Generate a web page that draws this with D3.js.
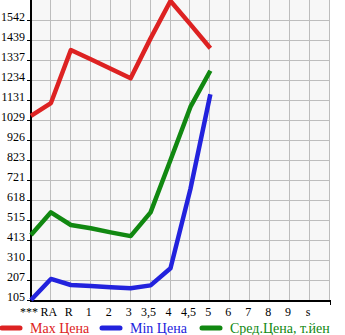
<!DOCTYPE html>
<html>
<head>
<meta charset="utf-8">
<script src="https://cdn.jsdelivr.net/npm/d3@7"></script>
<style>
  body { margin: 0; background: #fff; }
  svg { display: block; font-family: "Liberation Serif", "DejaVu Serif", serif; }
</style>
</head>
<body>
<script>
var w = 345;
var h = 335;

var categories = ["***", "RA", "R", "1", "2", "3", "3,5", "4", "4,5", "5", "6", "7", "8", "9", "s"];
var maxPrice = [1050, 1116, 1388, 1341, 1292, 1243, 1448, 1640, 1520, 1397];
var minPrice = [105, 213, 182, 177, 170, 165, 180, 268, 675, 1161];
var avgPrice = [439, 555, 490, 473, 452, 433, 555, 824, 1096, 1282];
var yTicks = [105, 207, 310, 413, 515, 618, 721, 823, 926, 1029, 1131, 1234, 1337, 1439, 1542];

var seriesNames = ["Max Цена", "Min Цена", "Сред.Цена, т.йен"];
var colors = ["#dd2222", "#2222dd", "#118811"];

var plotLeft = 31, plotRight = 330, plotTop = 0, plotBottom = 300;

var xScale = d3.scalePoint()
				.domain(categories)
				.range([plotLeft, plotRight - 20]);

var yScale = d3.scaleLinear()
				.domain([105, 1645])
				.range([plotBottom, plotTop]);

var svg = d3.select("body")
			.append("svg")
			.attr("width", w)
			.attr("height", h);

// plot background
svg.append("rect")
	.attr("x", plotLeft)
	.attr("y", plotTop)
	.attr("width", plotRight - plotLeft)
	.attr("height", plotBottom - plotTop)
	.attr("fill", "#f7f7f7");

// grid lines
svg.selectAll("line.hgrid")
	.data(yTicks)
	.enter()
	.append("line")
	.attr("class", "hgrid")
	.attr("x1", plotLeft)
	.attr("x2", plotRight)
	.attr("y1", function(d) { return Math.round(yScale(d)) + 0.5; })
	.attr("y2", function(d) { return Math.round(yScale(d)) + 0.5; })
	.attr("stroke", "#bdbdbd");

var vgrid = categories.slice(1).map(function(c) { return xScale(c); }).concat([plotRight]);
svg.selectAll("line.vgrid")
	.data(vgrid)
	.enter()
	.append("line")
	.attr("class", "vgrid")
	.attr("x1", function(d) { return Math.round(d) - 0.5; })
	.attr("x2", function(d) { return Math.round(d) - 0.5; })
	.attr("y1", plotTop)
	.attr("y2", plotBottom)
	.attr("stroke", "#bdbdbd");

// left tick marks
svg.selectAll("line.ytick")
	.data(yTicks)
	.enter()
	.append("line")
	.attr("class", "ytick")
	.attr("x1", plotLeft - 4)
	.attr("x2", plotLeft)
	.attr("y1", function(d) { return Math.round(yScale(d)) + 0.5; })
	.attr("y2", function(d) { return Math.round(yScale(d)) + 0.5; })
	.attr("stroke", "#000");

// y labels
svg.selectAll("text.ylab")
	.data(yTicks)
	.enter()
	.append("text")
	.attr("class", "ylab")
	.attr("x", 25)
	.attr("y", function(d) { return Math.round(yScale(d)) + 1; })
	.attr("text-anchor", "end")
	.attr("font-size", 12)
	.text(function(d) { return d; });

// x labels
svg.selectAll("text.xlab")
	.data(categories)
	.enter()
	.append("text")
	.attr("class", "xlab")
	.attr("x", function(d) { return xScale(d) - 2; })
	.attr("y", 316)
	.attr("text-anchor", "middle")
	.attr("font-size", 12)
	.text(function(d) { return d; });

// axes
svg.append("line")
	.attr("x1", plotLeft)
	.attr("x2", plotLeft)
	.attr("y1", plotTop)
	.attr("y2", plotBottom + 1)
	.attr("stroke", "#000")
	.attr("stroke-width", 2);

svg.append("line")
	.attr("x1", plotLeft - 1)
	.attr("x2", plotRight + 1)
	.attr("y1", plotBottom + 1)
	.attr("y2", plotBottom + 1)
	.attr("stroke", "#000")
	.attr("stroke-width", 2);

svg.append("line")
	.attr("x1", plotRight + 0.5)
	.attr("x2", plotRight + 0.5)
	.attr("y1", plotBottom)
	.attr("y2", plotBottom + 5)
	.attr("stroke", "#000");

// series lines
var line = d3.line()
			.x(function(d, i) { return xScale(categories[i]); })
			.y(function(d) { return yScale(d); });

var series = [maxPrice, minPrice, avgPrice];

svg.selectAll("path.series")
	.data(series)
	.enter()
	.append("path")
	.attr("class", "series")
	.attr("d", line)
	.attr("fill", "none")
	.attr("stroke", function(d, i) { return colors[i]; })
	.attr("stroke-width", 4.5)
	.attr("stroke-linejoin", "round");

// legend
var legendX = [0, 100, 200];
var legend = svg.selectAll("g.legend")
				.data(seriesNames)
				.enter()
				.append("g")
				.attr("class", "legend")
				.attr("transform", function(d, i) { return "translate(" + legendX[i] + ",328)"; });

legend.append("line")
	.attr("x1", 2)
	.attr("x2", 20)
	.attr("y1", 0)
	.attr("y2", 0)
	.attr("stroke", function(d, i) { return colors[i]; })
	.attr("stroke-width", 5)
	.attr("stroke-linecap", "round");

legend.append("text")
	.attr("x", 30)
	.attr("y", 5)
	.attr("font-size", 14)
	.attr("fill", function(d, i) { return colors[i]; })
	.text(function(d) { return d; });
</script>
</body>
</html>
